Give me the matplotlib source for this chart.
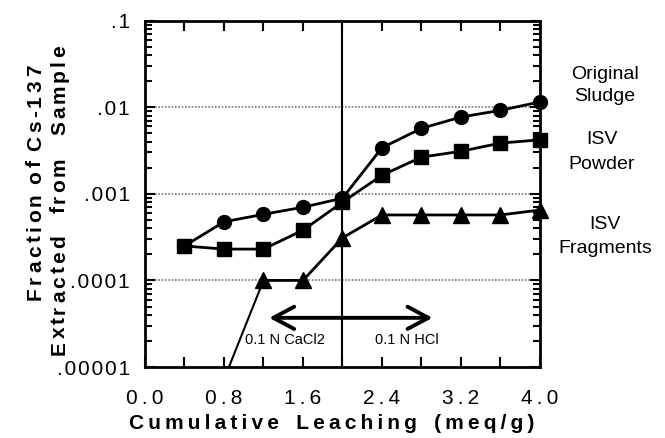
import matplotlib.pyplot as plt
from matplotlib.ticker import FixedLocator, FixedFormatter, LogLocator, NullFormatter

plt.rcParams['font.family'] = ['Liberation Sans', 'DejaVu Sans']

# data
leach = [0.4, 0.8, 1.2, 1.6, 2.0, 2.4, 2.8, 3.2, 3.6, 4.0]
sludge = [0.00025, 0.000475, 0.00058, 0.0007, 0.00089, 0.0034, 0.0057, 0.0077, 0.0092, 0.0115]
powder = [0.00025, 0.00023, 0.00023, 0.00038, 0.0008, 0.00164, 0.00265, 0.0031, 0.00385, 0.0042]
frag_x = [1.2, 1.6, 2.0, 2.4, 2.8, 3.2, 3.6, 4.0]
fragments = [0.0001, 0.0001, 0.00031, 0.00057, 0.00057, 0.00057, 0.00057, 0.00065]

yticks = [1e-5, 1e-4, 1e-3, 1e-2, 1e-1]
ylabels = ['.00001', '.0001', '.001', '.01', '.1']
xticks = [0.0, 0.8, 1.6, 2.4, 3.2, 4.0]
xlabels = ['0.0', '0.8', '1.6', '2.4', '3.2', '4.0']

THIN = '\u2009'
HAIR = '\u200a'
W, H = 665, 438


def spread(words, gap, wordgap='   '):
    # the original typesetting has wide letter spacing
    return wordgap.join(gap.join(w) for w in words.split())


fig = plt.figure(figsize=(6.65, 4.38), dpi=100)
ax = fig.add_axes([0.218, 0.162, 0.594, 0.791])
renderer = fig.canvas.get_renderer()


def vertical_label(x_px, bottom_px, top_px, text, track=2, **kw):
    # set a rotated line letter by letter, word gaps fill the span seen in the scan
    words = text.split()
    widths = []
    for w in words:
        ws = []
        for ch in w:
            t = fig.text(0, 0, ch, **kw)
            ws.append(t.get_window_extent(renderer).width)
            t.remove()
        widths.append(ws)
    letters = sum(sum(ws) + track * (len(ws) - 1) for ws in widths)
    gap = (bottom_px - top_px - letters) / (len(words) - 1)
    pos = bottom_px
    for w, ws in zip(words, widths):
        for ch, cw in zip(w, ws):
            fig.text(x_px / W, 1 - pos / H, ch, rotation=90, rotation_mode='anchor',
                     ha='left', va='baseline', **kw)
            pos -= cw + track
        pos += track - gap


ax.set_yscale('log')
ax.set_xlim(0, 4.0)
ax.set_ylim(1e-5, 1e-1)

# dotted gridlines and the split between the two leachants
for g in [1e-4, 1e-3, 1e-2]:
    ax.axhline(g, color='#777777', lw=1.2, ls=(0, (1, 1)), zorder=1)
ax.axvline(2.0, color='black', lw=1.5, zorder=1)

ax.plot(leach, sludge, '-o', color='black', lw=2, ms=10, clip_on=False, zorder=3)
ax.plot(leach, powder, '-s', color='black', lw=2, ms=10, clip_on=False, zorder=3)
ax.plot(frag_x, fragments, '-^', color='black', lw=2, ms=11, clip_on=False, zorder=3)

# ticks
ax.xaxis.set_major_locator(FixedLocator(xticks))
ax.xaxis.set_major_formatter(FixedFormatter([THIN.join(l) for l in xlabels]))
ax.xaxis.set_minor_locator(FixedLocator([0.4, 1.2, 2.0, 2.8, 3.6]))
ax.yaxis.set_major_locator(FixedLocator(yticks))
ax.yaxis.set_major_formatter(FixedFormatter([HAIR.join(l) for l in ylabels]))
ax.yaxis.set_minor_locator(LogLocator(base=10, subs=range(2, 10)))
ax.yaxis.set_minor_formatter(NullFormatter())
ax.tick_params(which='both', direction='in', top=True, right=True, width=1.5)
ax.tick_params(which='major', length=7, labelsize=15)
ax.tick_params(which='minor', length=5)
ax.tick_params(axis='x', which='minor', length=7)
ax.tick_params(axis='x', pad=16)
ax.tick_params(axis='y', pad=11)
for lab in ax.get_yticklabels():
    lab.set_va('center_baseline')
for s in ax.spines.values():
    s.set_linewidth(2)

ax.set_xlabel(spread('Cumulative Leaching (meq/g)', THIN), fontsize=15, fontweight='bold')
ax.xaxis.set_label_coords(0.473, -0.135)

# two-line y label
vertical_label(41, 300, 65, 'Fraction of Cs-137', track=3.5, fontsize=15, fontweight='bold')
vertical_label(65, 355, 45, 'Extracted from Sample', track=3, fontsize=15, fontweight='bold')

# annotations
ax.annotate('', xy=(1.23, 3.7e-5), xytext=(2.94, 3.7e-5),
            arrowprops=dict(arrowstyle='<->,head_length=1.5,head_width=0.8', lw=2.8, color='black'))
ax.plot([0.85, 1.2], [1e-5, 1e-4], color='black', lw=1.5, zorder=2)
ax.text(1.42, 2.05e-5, '0.1 N CaCl2', fontsize=10.5, ha='center', va='center', zorder=4,
        bbox=dict(facecolor='white', edgecolor='none', pad=0.5))
ax.text(2.65, 2.05e-5, '0.1 N HCl', fontsize=10.5, ha='center', va='center', zorder=4,
        bbox=dict(facecolor='white', edgecolor='none', pad=0.5))

fig.text(0.91, 0.805, 'Original\nSludge', fontsize=14, ha='center', va='center', linespacing=1.4)
fig.text(0.905, 0.653, 'ISV\nPowder', fontsize=14, ha='center', va='center', linespacing=1.6)
fig.text(0.91, 0.46, 'ISV\nFragments', fontsize=14, ha='center', va='center', linespacing=1.6)

fig.savefig('out.png', dpi=100)
